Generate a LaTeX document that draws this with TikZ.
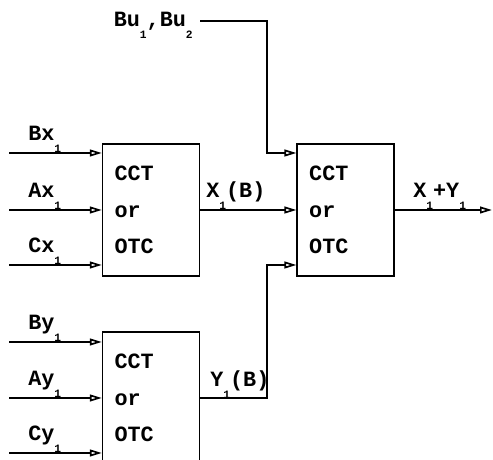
\documentclass[tikz,border=0pt]{standalone}
\usepackage{fontspec}
\setmonofont{Liberation Mono}
\usepackage{tikz}
\usetikzlibrary{positioning, arrows.meta, calc}
\newcommand{\lbfont}{\ttfamily\bfseries\fontsize{15.5}{18}\selectfont}
\newcommand{\ix}[1]{\raisebox{-8.5pt}{\fontsize{8}{8}\selectfont#1}}

\begin{document}
\begin{tikzpicture}[
        cell/.style={draw, line width=1.1pt, minimum height=3.3cm,
                     text width=1.82cm, inner xsep=0.3cm, align=left,
                     font=\lbfont},
        arr/.style={-{Triangle[open, length=0.3cm, width=0.17cm, line width=1.2pt]},
                    line width=1pt},
        lbl/.style={font=\lbfont, inner sep=0pt, anchor=base west}
    ]
    \useasboundingbox (0,0) rectangle (12.325,11.5);
    \clip (0,0) rectangle (12.325,11.5);
    % CCT / OTC cells
    \node[cell] (C1) at (3.775, 6.25) {CCT\\[8pt]or\\[8pt]OTC};
    \node[cell] (C2) at (3.775, 1.55) {CCT\\[8pt]or\\[8pt]OTC};
    \node[cell] (C3) at (8.64, 6.25) {CCT\\[8pt]or\\[8pt]OTC};
    % Inputs of the x cell
    \foreach \y/\t [count=\i] in {7.675/Bx, 6.25/Ax, 4.875/Cx}{
        \coordinate (X\i) at (0.225, \y);
        \draw[arr] (X\i) -- (X\i -| C1.west);
        \node[lbl] (LX\i) at (0.7, \y+0.32) {\t\ix{1}};
    }
    % Inputs of the y cell
    \foreach \y/\t [count=\i] in {2.95/By, 1.55/Ay, 0.175/Cy}{
        \coordinate (Y\i) at (0.225, \y);
        \draw[arr] (Y\i) -- (Y\i -| C2.west);
        \node[lbl] (LY\i) at (0.7, \y+0.32) {\t\ix{1}};
    }
    % Second stage
    \coordinate (Bu) at (5.0, 10.975);
    \coordinate (J1) at (6.675, 7.675);
    \coordinate (J2) at (6.675, 4.875);
    \coordinate (Out) at (12.3, 6.25);
    \node[lbl, anchor=base east] (LBu) at (4.825, 10.825) {Bu\ix{1},Bu\ix{2}};
    \draw[arr] (Bu) -| (J1) -- (J1 -| C3.west);
    \draw[arr] (C1.east) -- (C3.west);
    \node[lbl] (LX) at (5.15, 6.55) {X\ix{1}(B)};
    \draw[arr] (C2.east) -| (J2) -- (J2 -| C3.west);
    \node[lbl] (LY) at (5.25, 1.83) {Y\ix{1}(B)};
    \draw[arr] (C3.east) -- (Out);
    \node[lbl] (LXY) at (10.325, 6.55) {X\ix{1}+Y\ix{1}};
\end{tikzpicture}
\end{document}
